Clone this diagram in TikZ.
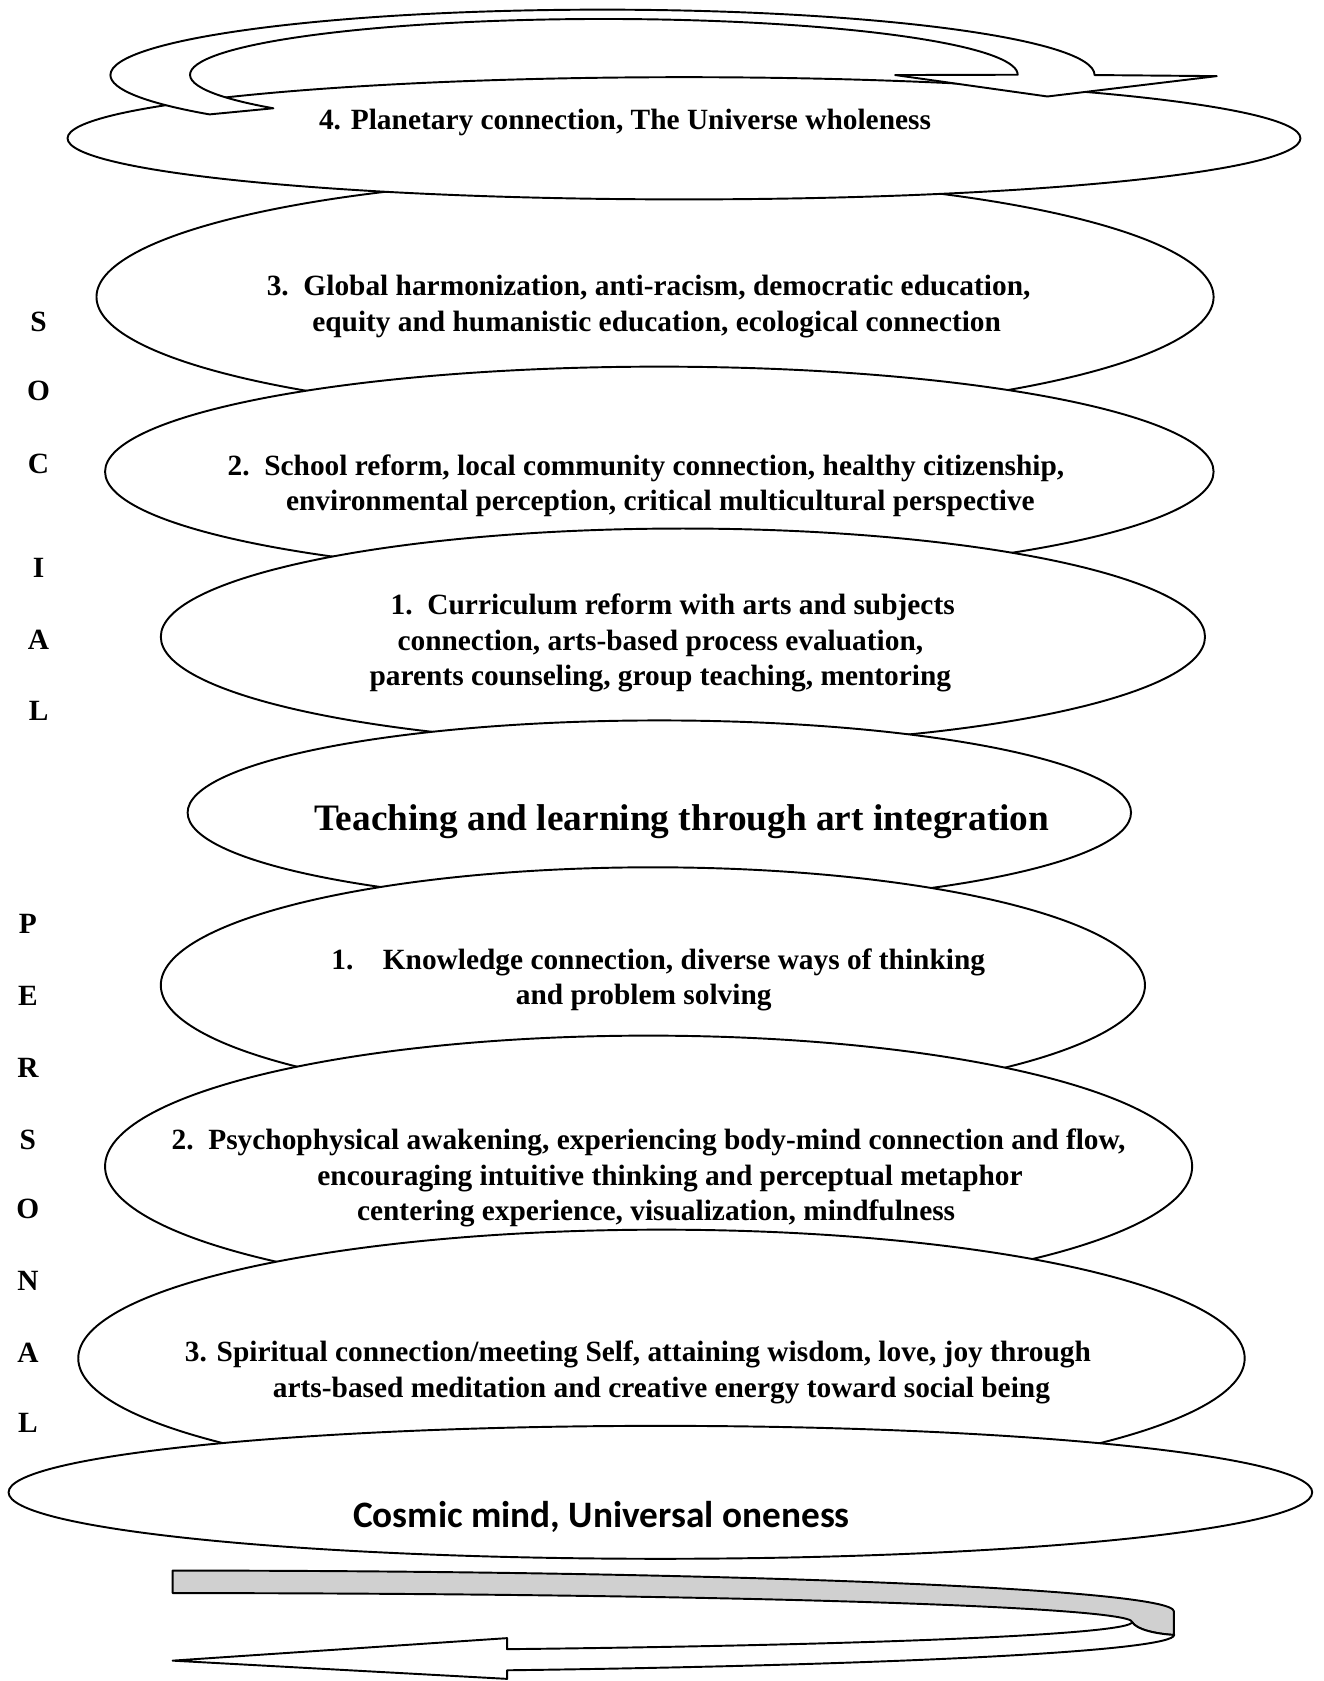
\documentclass[tikz,border=0pt]{standalone}
\usepackage{fontspec}
\setmainfont{Liberation Serif}
\newfontfamily\calibrifont{Carlito}
\usetikzlibrary{shapes.geometric}
\definecolor{bandgray}{RGB}{208,208,208}
\tikzset{
  ring/.style   ={draw, ellipse, fill=white, line width=0.9pt, inner sep=0pt},
  lvltext/.style={align=center, inner sep=0pt,
                  font=\bfseries\fontsize{13.7}{16.5}\selectfont},
  bigtext/.style={align=center, inner sep=0pt,
                  font=\bfseries\fontsize{17.4}{20}\selectfont},
  sideltr/.style={inner sep=0pt, font=\bfseries\fontsize{13.7}{16.5}\selectfont},
  ribbon/.style ={draw, line width=0.9pt, line join=round, fill=white},
}

\begin{document}
\begin{tikzpicture}[x=0.5pt, y=-0.5pt]
  \fill[white] (0,0) rectangle (1235,1568);
  \useasboundingbox (0,0) rectangle (1235,1568);

  %% social levels (upper half)
  \node[ring, minimum width=521pt, minimum height=112pt] (global) at (611,277) {};
  \node[lvltext] (globaltxt) at (605,286)
        {3.\ \ Global harmonization, anti-racism, democratic education,\\
         \hspace*{7.5pt}equity and humanistic education, ecological connection};
  \node[ring, minimum width=575pt, minimum height=57pt] (planet) at (638,129) {};
  \node[lvltext] (planettxt) at (583,114)
        {4. Planetary connection, The Universe wholeness};

  %% curved arrow over the top
  \draw[ribbon] (1021,70)
        arc[start angle=0, end angle=-217, x radius=459, y radius=61]
        -- (255,101)
        arc[start angle=-217, end angle=0, x radius=386, y radius=52]
        -- (835,70) -- (977,90) -- (1135,71) -- cycle;

  \node[ring, minimum width=517pt, minimum height=98pt] (school) at (615,440) {};
  \node[lvltext] (schooltxt) at (609,453)
        {2.\ \ School reform, local community connection, healthy citizenship,\hspace*{6.5pt}\\
         \hspace*{7pt}environmental perception, critical multicultural perspective};
  \node[ring, minimum width=487pt, minimum height=101pt] (curric) at (637,594) {};
  \node[lvltext] (currictxt) at (616,600)
        {\hspace*{11.5pt}1.\ \ Curriculum reform with arts and subjects\\
         connection, arts-based process evaluation,\hspace*{3.5pt}\\
         parents counseling, group teaching, mentoring};

  %% centre
  \node[ring, minimum width=440pt, minimum height=86pt] (teach) at (615,758) {};
  \node[bigtext] (teachtxt) at (636,766)
        {Teaching and learning through art integration};

  %% personal levels (lower half)
  \node[ring, minimum width=459pt, minimum height=110pt] (know) at (609,919) {};
  \node[lvltext] (knowtxt) at (607,914)
        {\hspace*{7pt}1.\hspace{1em}Knowledge connection, diverse ways of thinking\\
         and problem solving\hspace*{6.5pt}};
  \node[ring, minimum width=507pt, minimum height=122pt] (psych) at (605,1088) {};
  \node[lvltext] (psychtxt) at (612,1099)
        {2.\ \ Psychophysical awakening, experiencing body-mind connection and flow,\hspace*{7pt}\\
         \hspace*{13pt}encouraging intuitive thinking and perceptual metaphor\\
         centering experience, visualization, mindfulness};
  \node[ring, minimum width=544pt, minimum height=120pt] (spirit) at (617,1267) {};
  \node[lvltext] (spirittxt) at (617,1280)
        {3. Spiritual connection/meeting Self, attaining wisdom, love, joy through\hspace*{22pt}\\
         arts-based meditation and creative energy toward social being};
  \node[ring, minimum width=608pt, minimum height=62pt] (cosmic) at (616,1392) {};
  \node[bigtext, font=\calibrifont\bfseries\fontsize{17.4}{20}\selectfont]
        (cosmictxt) at (561,1415) {Cosmic mind, Universal oneness};

  %% twisted band at the bottom
  \fill[bandgray, draw=black, line width=0.9pt, line join=round] (161,1465)
        arc[start angle=-90, end angle=0, x radius=934, y radius=38]
        -- (1095,1525) .. controls (1078,1524) and (1060,1520) .. (1056,1513)
        arc[start angle=0, end angle=-90, x radius=895, y radius=27]
        -- cycle;
  \draw[ribbon] (1095,1525) .. controls (1078,1524) and (1060,1520) .. (1056,1513)
        arc[start angle=0, end angle=69.6, x radius=895, y radius=27]
        -- (473,1528) -- (161,1549) -- (473,1566) -- (473,1558)
        arc[start angle=70.5, end angle=0, x radius=934, y radius=35]
        -- cycle;

  %% side captions
  \foreach \ch/\yy in {S/300, O/365, C/433, I/530, A/597, L/663}
    \node[sideltr] (soc\ch) at (36,\yy) {\ch};
  \foreach \ch/\yy in {P/862, E/929, R/996, S/1063, O/1128, N/1195, A/1262, L/1327}
    \node[sideltr] (per\ch) at (26,\yy) {\ch};
\end{tikzpicture}
\end{document}
